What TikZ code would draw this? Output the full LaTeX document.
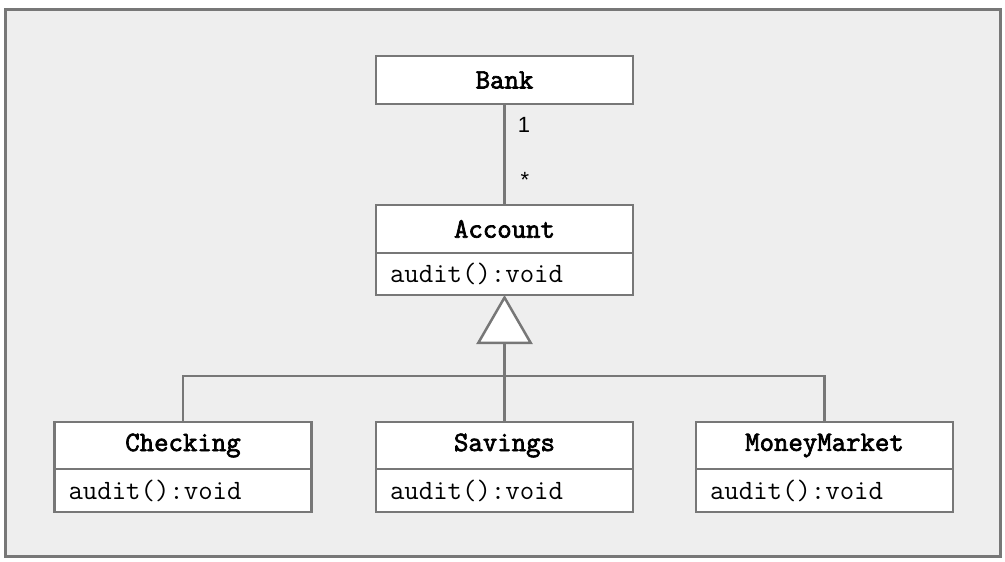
\documentclass[tikz,border=0pt]{standalone}
\usepackage{fontspec}
\setsansfont{Liberation Sans}
\setmonofont{Latin Modern Mono}[AutoFakeBold=2.5]
\usetikzlibrary{arrows.meta}
\definecolor{ln}{HTML}{777777}
\definecolor{bg}{HTML}{EEEEEE}
\tikzset{
  ttl/.style={draw=ln, line width=2.5pt, fill=white, minimum width=257pt, inner sep=0pt, outer sep=0pt,
    font=\fontsize{28}{32}\selectfont\ttfamily\bfseries},
  mth/.style={draw=ln, line width=2.5pt, fill=white, text width=229pt, inner xsep=14pt, inner ysep=0pt, outer sep=0pt, align=left,
    font=\fontsize{28}{32}\selectfont\ttfamily},
  conn/.style={draw=ln, line width=2.5pt},
  mult/.style={font=\fontsize{22}{26}\selectfont\sffamily, inner sep=0pt}
}
\begin{document}
\begin{tikzpicture}[x=1pt,y=-1pt]
\useasboundingbox (0,0) rectangle (1005,562);
\draw[ln, line width=3pt, fill=bg] (5,9) rectangle (1000,556);
% Bank
\node[ttl, minimum height=48pt] (bank) at (504.5,80) {Bank};
% Account
\node[ttl, minimum height=48pt] (acc) at (504.5,229) {Account};
\node[mth, minimum height=42pt, anchor=north] (accm) at (acc.south) {audit():void};
% Subclasses
\node[ttl, minimum height=47pt] (chk) at (183,445.5) {Checking};
\node[mth, minimum height=43pt, anchor=north] (chkm) at (chk.south) {audit():void};
\node[ttl, minimum height=47pt] (sav) at (504.5,445.5) {Savings};
\node[mth, minimum height=43pt, anchor=north] (savm) at (sav.south) {audit():void};
\node[ttl, minimum height=47pt] (mm) at (824.5,445.5) {MoneyMarket};
\node[mth, minimum height=43pt, anchor=north] (mmm) at (mm.south) {audit():void};
% association
\draw[conn] (bank.south) -- (acc.north);
\node[mult] (one) at (524,125) {1};
\node[mult] (star) at (525,180) {*};
% generalization
\coordinate (j) at (504.5,376);
\draw[conn] (chk.north) |- (j);
\draw[conn] (mm.north) |- (j);
\draw[conn] (sav.north) -- (j);
\draw[conn, -{Triangle[open, length=49pt, width=56pt, fill=white, line width=2.5pt]}] (j) -- (accm.south);
\end{tikzpicture}
\end{document}
